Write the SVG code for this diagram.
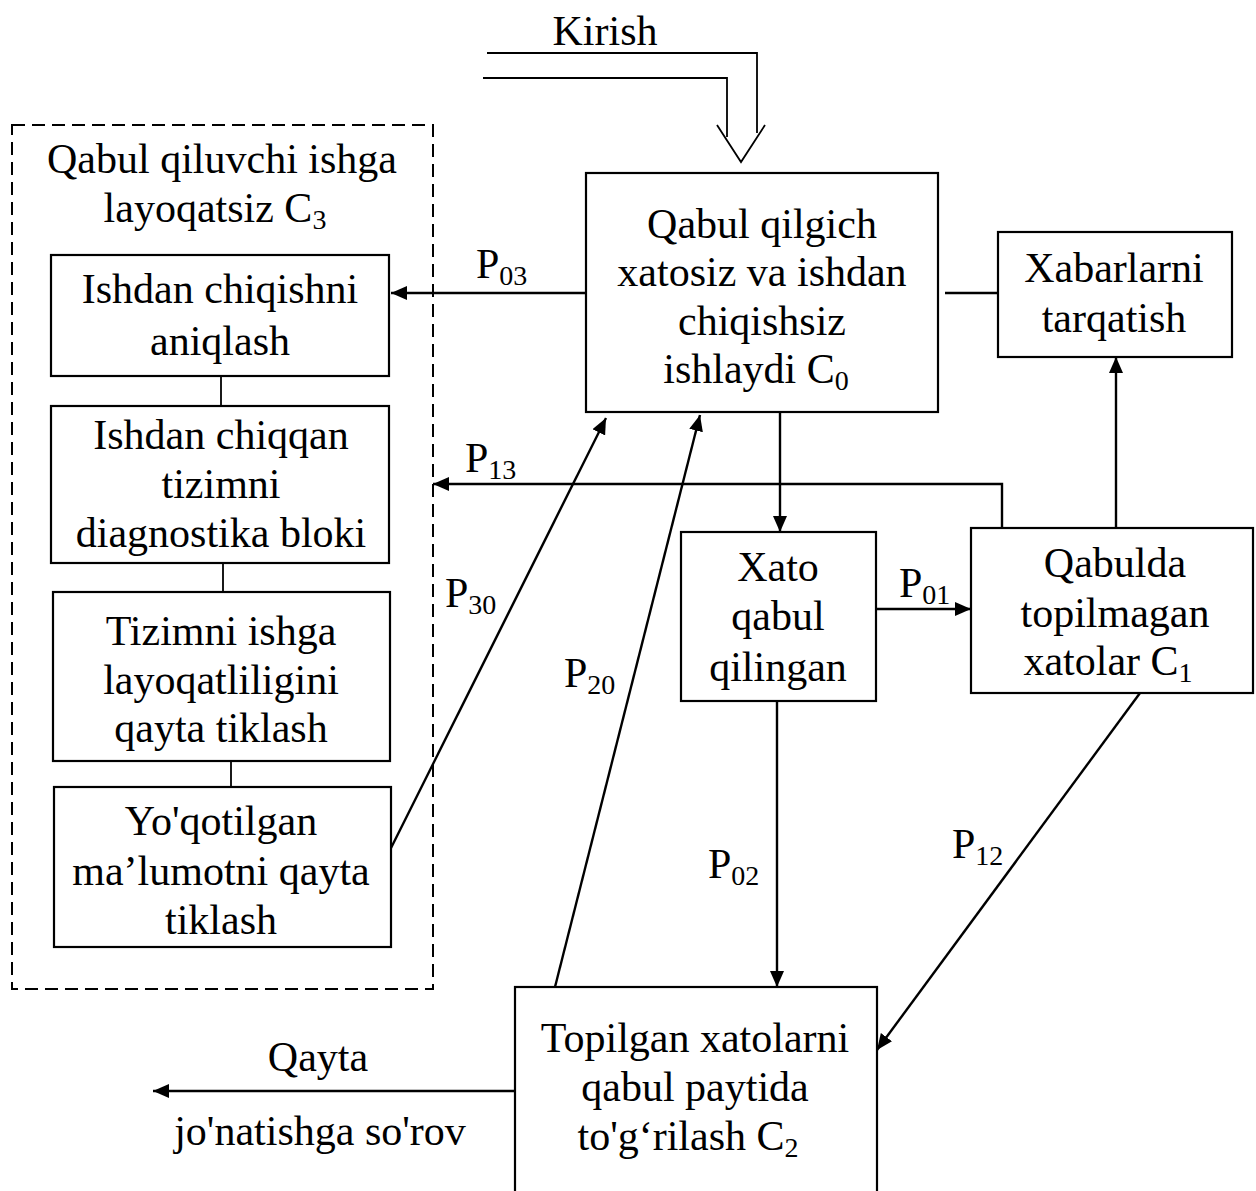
<svg xmlns="http://www.w3.org/2000/svg" width="1256" height="1191" viewBox="0 0 1256 1191">
<style>
text{font-family:"Liberation Serif","Times New Roman",serif;font-size:42px;fill:#000}
.c{text-anchor:middle}
.box{fill:#fff;stroke:#000;stroke-width:2.2}
.ln{fill:none;stroke:#000;stroke-width:2.4}
.thin{fill:none;stroke:#000;stroke-width:1.8}
.arr{fill:none;stroke:#000;stroke-width:2.4;marker-end:url(#ah)}
.dash{fill:none;stroke:#000;stroke-width:2;stroke-dasharray:13 7}
.sub{font-size:28px}
</style>
<defs>
<marker id="ah" markerWidth="17" markerHeight="14" refX="16" refY="7" orient="auto" markerUnits="userSpaceOnUse">
<path d="M0,0 L16,7 L0,14 z" fill="#000"/>
</marker>
</defs>
<rect width="1256" height="1191" fill="#fff"/>

<g id="input">
<text class="c" x="605" y="45">Kirish</text>
<polyline class="thin" points="487,53 757,53 757,133"/>
<polyline class="thin" points="483,78 727,78 727,137"/>
<polyline class="thin" points="717,125 741,162 765,125"/>
</g>

<g id="group-C3">
<rect class="dash" x="12" y="125" width="421" height="864"/>
<text class="c" x="222" y="173">Qabul qiluvchi ishga</text>
<text class="c" x="215" y="222">layoqatsiz C<tspan class="sub" dy="7">3</tspan></text>
</g>

<g id="node-aniqlash">
<rect class="box" x="51" y="255" width="338" height="121"/>
<text class="c" x="220" y="303">Ishdan chiqishni</text>
<text class="c" x="220" y="355">aniqlash</text>
</g>

<g id="node-diagnostika">
<rect class="box" x="51" y="406" width="338" height="157"/>
<text class="c" x="221" y="449">Ishdan chiqqan</text>
<text class="c" x="221" y="498">tizimni</text>
<text class="c" x="221" y="547">diagnostika bloki</text>
</g>

<g id="node-tiklash">
<rect class="box" x="53" y="592" width="337" height="169"/>
<text class="c" x="221" y="645">Tizimni ishga</text>
<text class="c" x="221" y="694">layoqatliligini</text>
<text class="c" x="221" y="742">qayta tiklash</text>
</g>

<g id="node-malumot">
<rect class="box" x="54" y="787" width="337" height="160"/>
<text class="c" x="221" y="835">Yo'qotilgan</text>
<text class="c" x="221" y="885">ma’lumotni qayta</text>
<text class="c" x="221" y="934">tiklash</text>
</g>

<g id="node-C0">
<rect class="box" x="586" y="173" width="352" height="239"/>
<text class="c" x="762" y="238">Qabul qilgich</text>
<text class="c" x="762" y="286">xatosiz va ishdan</text>
<text class="c" x="762" y="335">chiqishsiz</text>
<text class="c" x="756" y="383">ishlaydi C<tspan class="sub" dy="7">0</tspan></text>
</g>

<g id="node-xabar">
<rect class="box" x="998" y="232" width="234" height="125"/>
<text class="c" x="1114" y="282">Xabarlarni</text>
<text class="c" x="1114" y="332">tarqatish</text>
</g>

<g id="node-xato">
<rect class="box" x="681" y="532" width="195" height="169"/>
<text class="c" x="778" y="581">Xato</text>
<text class="c" x="778" y="630">qabul</text>
<text class="c" x="778" y="681">qilingan</text>
</g>

<g id="node-C1">
<rect class="box" x="971" y="528" width="282" height="165"/>
<text class="c" x="1115" y="577">Qabulda</text>
<text class="c" x="1115" y="627">topilmagan</text>
<text class="c" x="1108" y="675">xatolar C<tspan class="sub" dy="7">1</tspan></text>
</g>

<g id="node-C2">
<rect class="box" x="515" y="987" width="362" height="230"/>
<text class="c" x="695" y="1052">Topilgan xatolarni</text>
<text class="c" x="695" y="1101">qabul paytida</text>
<text class="c" x="688" y="1150">to'g‘rilash C<tspan class="sub" dy="7">2</tspan></text>
</g>

<g id="connectors">
<line class="thin" x1="221" y1="376" x2="221" y2="406"/>
<line class="thin" x1="223" y1="563" x2="223" y2="592"/>
<line class="thin" x1="231" y1="761" x2="231" y2="787"/>
<line class="ln" x1="945" y1="293" x2="997" y2="293"/>
<line class="arr" x1="586" y1="293" x2="391" y2="293"/>
<polyline class="arr" points="1002,528 1002,484 433,484"/>
<line class="arr" x1="780" y1="412" x2="780" y2="532"/>
<line class="arr" x1="876" y1="609" x2="971" y2="609"/>
<line class="arr" x1="1116" y1="528" x2="1116" y2="357"/>
<line class="arr" x1="777" y1="701" x2="777" y2="987"/>
<line class="arr" x1="1140" y1="693" x2="877" y2="1050"/>
<line class="arr" x1="391" y1="848" x2="606" y2="418"/>
<line class="arr" x1="555" y1="987" x2="700" y2="415"/>
<line class="arr" x1="515" y1="1091" x2="153" y2="1091"/>
</g>

<g id="labels">
<text x="476" y="278">P<tspan class="sub" dy="7">03</tspan></text>
<text x="465" y="472">P<tspan class="sub" dy="7">13</tspan></text>
<text x="445" y="607">P<tspan class="sub" dy="7">30</tspan></text>
<text x="564" y="687">P<tspan class="sub" dy="7">20</tspan></text>
<text x="899" y="597">P<tspan class="sub" dy="7">01</tspan></text>
<text x="708" y="878">P<tspan class="sub" dy="7">02</tspan></text>
<text x="952" y="858">P<tspan class="sub" dy="7">12</tspan></text>
<text class="c" x="318" y="1071">Qayta</text>
<text class="c" x="320" y="1145">jo'natishga so'rov</text>
</g>
</svg>
